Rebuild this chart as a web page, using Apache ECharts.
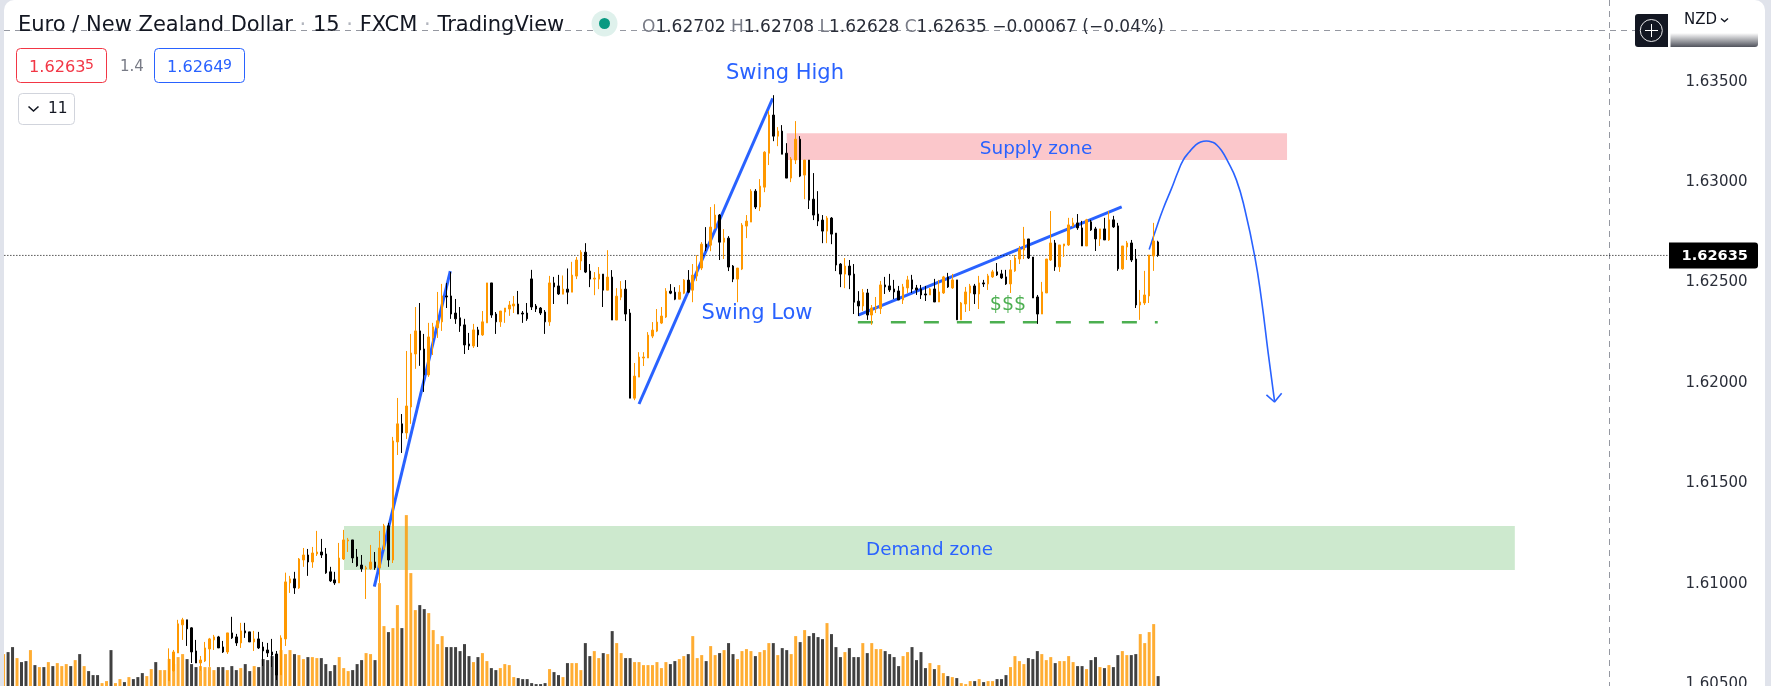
<!DOCTYPE html>
<html><head><meta charset="utf-8">
<style>
html,body{margin:0;padding:0;background:#e0e3eb;width:1771px;height:686px;overflow:hidden}
#c{position:absolute;left:0;top:0;width:1771px;height:686px;clip-path:inset(0 6px 0 4px round 10px 10px 0 0)}
</style>
<script src="https://cdn.jsdelivr.net/npm/echarts@6/dist/echarts.min.js"></script>
</head><body><div id="c"></div>
<script>
// All prices below are in 1/100000 of a NZD ("pipettes"). Rows are [open, close, low, high].
const barsOffscreen = 37;          // bars whose candles sit below the visible price range
const earlyBarUp = [1,0,0,1,0,0,1,0,1,0,1,0,1,1,1,0,1,0,1,0,0,0,1,1,0,1,1,0,1,0,0,0,1,1,0,1,1];

const candlesBase = [
[160517,160624,160517,160678],[160567,160660,160562,160670],[160655,160800,160655,160820],[160795,160820,160720,160830],
[160820,160775,160690,160820],[160780,160660,160605,160783],[160665,160605,160605,160720],[160605,160620,160566,160640],
[160615,160680,160610,160710],[160675,160725,160586,160730],[160720,160735,160670,160745],[160735,160680,160680,160740],
[160685,160660,160655,160715],[160660,160755,160650,160755],[160755,160730,160725,160835],[160735,160705,160690,160750],
[160705,160765,160680,160805],[160765,160755,160730,160805],[160760,160710,160710,160760],[160710,160725,160665,160765],
[160725,160680,160675,160760],[160685,160665,160590,160710],[160670,160655,160635,160705],[160660,160645,160585,160725],
[160650,160545,160520,160665]];

const candlesRally = [
[160546,160730,160546,160743],[160725,161009,160690,161055],[161004,161024,160954,161039],[161024,160979,160949,161059],
[160979,161123,160974,161128],[161118,161143,161084,161178],[161143,161108,161039,161173],[161108,161153,161079,161183],
[161148,161158,161138,161263],[161158,161143,161128,161223],[161148,161054,161049,161178],[161059,161014,161009,161084],
[161019,161004,160994,161059],[161004,161128,161004,161203],[161123,161218,161118,161268],[161213,161218,161158,161228],
[161218,161128,161103,161218],[161133,161089,161084,161173],[161093,161074,161059,161143],[161074,161079,160924,161089],
[161074,161108,161069,161193],[161108,161079,161069,161158],[161079,161178,161004,161263],[161173,161288,161168,161298],
[161288,161118,161084,161303],[161118,161711,161103,161731],[161706,161796,161641,161925],[161796,161751,161651,161845],
[161751,161885,161721,162159],[161880,162149,161796,162244],[162144,162259,162070,162378],[162259,162164,162085,162398],
[162169,162040,161955,162244],[162040,162229,162030,162299],[162224,162279,162139,162299],[162274,162309,162224,162453],
[162304,162433,162259,162493],[162433,162428,162373,162498],[162433,162343,162319,162553],[162348,162319,162294,162418],
[162324,162284,162254,162378],[162289,162189,162144,162319],[162194,162184,162164,162249],[162184,162264,162174,162294],
[162264,162239,162179,162279],[162239,162304,162234,162358],[162299,162498,162299,162498],[162498,162338,162324,162498],
[162343,162304,162244,162353],[162304,162358,162279,162358],[162353,162373,162299,162373],[162368,162388,162334,162408],
[162383,162393,162348,162433],[162393,162343,162343,162458],[162348,162343,162299,162358],[162348,162319,162309,162398],
[162518,162378,162363,162563],[162383,162368,162353,162393],[162373,162348,162338,162378],[162353,162304,162244,162363],
[162304,162498,162284,162533],[162498,162478,162393,162528],[162483,162443,162438,162538]];

const candlesSwing = [
[162442,162467,162442,162535],[162467,162452,162392,162570],[162452,162537,162452,162603],[162532,162612,162517,162627],
[162607,162651,162562,162661],[162651,162552,162547,162696],[162557,162517,162477,162592],[162517,162522,162437,162552],
[162517,162542,162467,162577],[162542,162462,162378,162542],[162462,162527,162462,162661],[162527,162313,162313,162562],
[162313,162432,162313,162472],[162427,162467,162412,162507],[162467,162343,162308,162512],[162348,161924,161924,162368],
[161924,162034,161914,162099],[162029,162129,162029,162153],[162124,162129,162084,162153],[162124,162238,162124,162253],
[162233,162263,162223,162303],[162258,162303,162253,162368],[162298,162333,162293,162378],[162328,162457,162323,162472],
[162457,162447,162442,162492],[162452,162417,162412,162477],[162417,162452,162417,162487],[162447,162512,162442,162517],
[162512,162452,162447,162562],[162462,162537,162402,162592],[162532,162577,162507,162636],[162572,162691,162562,162701],
[162691,162676,162656,162776],[162686,162776,162656,162876],[162771,162836,162766,162890],[162836,162701,162612,162841],
[162701,162721,162617,162766],[162721,162577,162557,162731],[162582,162517,162502,162587],[162517,162572,162402,162572],
[162567,162786,162562,162796],[162781,162806,162721,162836],[162801,162955,162801,162965],[162955,162876,162866,162965],
[162876,162980,162856,163015],[162975,163149,162950,163154],[163144,163334,163085,163354],[163334,163229,163204,163433],
[163229,163254,163179,163274],[163254,163139,163139,163284],[163144,163020,163020,163194],[163020,163115,163000,163125],
[163110,163214,163090,163304],[163214,163030,163025,163229],[163035,163110,162915,163110],[163110,162910,162866,163110],
[162915,162836,162811,163045],[162841,162806,162781,162955],[162811,162756,162696,162836],[162756,162821,162696,162831],
[162821,162741,162691,162826],[162746,162587,162557,162746],[162592,162542,162477,162597],[162542,162582,162472,162622],
[162582,162537,162467,162612],[162542,162402,162343,162592],[162407,162383,162333,162457]];

const candlesRange = [
[162383,162450,162358,162468],[162448,162338,162314,162468],[162338,162373,162289,162388],[162373,162378,162348,162428],
[162370,162488,162343,162508],[162488,162478,162443,162528],[162483,162463,162453,162543],[162468,162453,162418,162513],
[162458,162413,162413,162483],[162413,162478,162393,162493],[162473,162513,162448,162533],[162513,162468,162448,162538],
[162473,162463,162438,162488],[162468,162438,162418,162488],[162443,162438,162408,162483],[162438,162468,162438,162473],
[162468,162403,162403,162518],[162403,162453,162403,162513],[162448,162528,162443,162533],[162528,162478,162473,162548],
[162473,162513,162468,162543],[162513,162314,162314,162513],[162314,162398,162314,162403],[162393,162453,162353,162478],
[162448,162483,162358,162493],[162483,162443,162393,162493],[162443,162498,162368,162533],[162498,162493,162478,162513],
[162493,162533,162463,162543],[162528,162553,162523,162563],[162553,162538,162533,162597],[162543,162523,162518,162563],
[162528,162493,162488,162563],[162493,162563,162448,162612],[162558,162622,162553,162637],[162617,162667,162592,162682],
[162662,162717,162617,162777],[162717,162622,162617,162717],[162627,162423,162423,162627],[162428,162343,162294,162438],
[162343,162453,162343,162503],[162448,162617,162448,162617],[162612,162697,162607,162856],[162697,162578,162558,162712],
[162578,162687,162553,162687],[162682,162692,162627,162692],[162687,162787,162682,162822],[162782,162797,162777,162822],
[162797,162772,162762,162841],[162772,162682,162682,162807],[162682,162812,162682,162817],[162802,162762,162757,162812],
[162767,162717,162657,162777],[162717,162767,162682,162767],[162767,162712,162712,162822],[162712,162812,162707,162856],
[162812,162777,162772,162832],[162782,162568,162558,162797],[162568,162682,162563,162682],[162677,162697,162612,162707],
[162697,162612,162602,162712],[162617,162388,162373,162667],[162388,162403,162314,162463],[162398,162438,162388,162558],
[162433,162637,162398,162637],[162632,162707,162558,162797],[162702,162635,162628,162708]];

const volumes = [
32,34,39,28,24,25,36,21,19,19,24,20,23,20,22,20,26,32,20,15,11,11,3,5,36,3,7,4,9,7,9,13,10,17,24,16,16,
27,22,29,32,27,22,19,20,19,19,16,19,19,16,20,16,18,22,15,20,19,27,26,30,32,36,32,36,32,31,27,29,29,28,28,22,15,21,29,18,15,16,22,26,33,32,26,
103,60,54,58,81,58,171,113,76,81,77,73,56,42,50,39,39,39,35,42,30,24,29,33,25,18,16,18,22,21,9,8,7,7,3,2,2,3,17,14,11,9,23,23,23,16,43,30,35,28,
33,32,55,43,33,28,28,24,24,21,21,21,24,18,24,22,25,27,30,32,50,28,31,25,40,31,33,36,43,32,27,35,37,35,30,34,36,43,43,31,38,36,32,50,44,56,50,53,49,47,63,52,39,29,34,38,29,29,43,33,43,37,37,35,32,29,20,30,34,39,26,34,18,23,17,21,13,10,9,8,3,2,5,5,7,4,5,5,7,7,11,19,30,25,22,28,27,35,32,26,29,23,25,25,30,24,20,20,17,26,29,19,18,21,19,31,35,31,31,32,52,43,54,62,10];

const priceTicks = [160500,161000,161500,162000,162500,163000,163500];
const lastPrice = 162635;

// Annotations: [bar index, price]
const trendA = [[82.84,160985],[99.82,162557]];
const trendB = [[141.99,161895],[171.87,163417]];
const trendC = [[190.99,162338],[249.85,162877]];
const liquidityLine = [[190.9,162302],[257.9,162302]];
const forecastCurve = [[256,162665],[257.7,162778],[259.15,162869],[261,162969],[262.3,163044],[263.6,163110],[265,163151],[266.2,163181],[267.5,163200],[268.8,163205],[270.2,163198],[271.1,163185],[272.2,163156],[273.3,163114],[275.5,163010],[277.4,162861],[279.6,162629],[281.1,162413],[282.6,162147],[284,161910]];
const forecastArrow = [[282.2,161940],[284,161905],[285.6,161948]];
const supplyZone = [[175,163244],[286.8,163110]];
const demandZone = [[76.07,161287],[337.7,161068]];
const priceLine = [[-0.5,lastPrice],[372.1,lastPrice]];

const P = v => v / 1e5;
const pts = a => a.map(p => [p[0], P(p[1])]);
const candles = [...candlesBase, ...candlesRally, ...candlesSwing, ...candlesRange];
const TOTAL_SLOTS = 394;
const categories = Array.from({length: TOTAL_SLOTS}, (_, i) => String(i));
const candleData = Array.from({length: barsOffscreen}, () => ['-','-','-','-']).concat(candles.map(r => r.map(P)));
const isUp = i => i < barsOffscreen ? earlyBarUp[i] === 1 : candles[i - barsOffscreen][1] >= candles[i - barsOffscreen][0];
const volumeData = volumes.map((v, i) => ({value: v, itemStyle: {color: isUp(i) ? 'rgba(255,152,0,0.8)' : 'rgba(0,0,0,0.75)'}}));

const BLUE = '#2962ff', INK = '#131722', GREY = '#787b86';
const FONT = '"DejaVu Sans", sans-serif';
const overlay = (name, data, lineStyle, z, extra) => Object.assign({
  name, type: 'line', xAxisIndex: 1, yAxisIndex: 0, data, symbol: 'none', silent: true, z,
  lineStyle, clip: false, animation: false
}, extra || {});
const zone = (name, z, color) => ({
  name, type: 'line', xAxisIndex: 1, yAxisIndex: 0, data: [], z: 2, silent: true,
  markArea: {silent: true, itemStyle: {color}, data: [[{coord: [z[0][0], P(z[0][1])]}, {coord: [z[1][0], P(z[1][1])]}]]}
});
const T = (x, y, text, fontSize, fill, opts) => ({type: 'text', x, y, z: 50, silent: true,
  style: Object.assign({text, fontSize, fill, fontFamily: FONT, textVerticalAlign: 'middle', verticalAlign: 'middle', align: 'left'}, opts || {})});
const L = (x1, y1, x2, y2, stroke, dash, z) => ({type: 'line', z: z || 1, silent: true, shape: {x1, y1, x2, y2}, style: {stroke, lineWidth: 1, lineDash: dash}});
const R = (x, y, width, height, style, r, z) => ({type: 'rect', z: z || 40, silent: true, shape: {x, y, width, height, r: r || 0}, style});

const graphics = [
  L(4, 30.5, 1636, 30.5, '#9598a1', [6, 5]),
  L(1609.5, 0, 1609.5, 686, '#9598a1', [6, 5]),
  // header
  T(18, 26, '{a|Euro / New Zealand Dollar}{d| · }{a|15}{d| · }{a|FXCM}{d| · }{a|TradingView}', 21, INK, {
    rich: {a: {fontSize: 21, fill: INK, color: INK, fontFamily: FONT}, d: {fontSize: 21, fill: '#b2b5be', color: '#b2b5be', fontFamily: FONT}}}),
  {type: 'circle', z: 40, silent: true, shape: {cx: 604.5, cy: 23.5, r: 13}, style: {fill: '#dff1ec'}},
  {type: 'circle', z: 41, silent: true, shape: {cx: 604.5, cy: 23.5, r: 5.5}, style: {fill: '#089981'}},
  T(642, 28, '{g|O}{v|1.62702} {g|H}{v|1.62708} {g|L}{v|1.62628} {g|C}{v|1.62635} {v|−0.00067 (−0.04%)}', 17, INK, {
    rich: {g: {fontSize: 17, fill: GREY, color: GREY, fontFamily: FONT}, v: {fontSize: 17, fill: '#2a2e39', color: '#2a2e39', fontFamily: FONT}}}),
  R(16.5, 48.5, 90, 34, {fill: '#fff', stroke: '#f23645', lineWidth: 1}, 4),
  T(29, 67.5, '1.6263', 16.2, '#f23645'),
  T(85, 65, '5', 14, '#f23645'),
  T(120, 67, '1.4', 15, GREY),
  R(154.5, 48.5, 90, 34, {fill: '#fff', stroke: BLUE, lineWidth: 1}, 4),
  T(167, 67.5, '1.6264', 16.2, BLUE),
  T(223, 65, '9', 14, BLUE),
  R(18.5, 93.5, 56, 31, {fill: '#fff', stroke: '#d1d4dc', lineWidth: 1}, 4),
  {type: 'polyline', z: 41, silent: true, shape: {points: [[28.5, 106.5], [33.5, 111], [38.5, 106.5]]}, style: {stroke: INK, lineWidth: 1.6, fill: null}},
  T(48, 109, '11', 15.4, INK),
  // annotation text
  T(785, 74, 'Swing High', 21, BLUE, {align: 'center'}),
  T(757, 314, 'Swing Low', 21, BLUE, {align: 'center'}),
  T(1036, 149, 'Supply zone', 18.4, BLUE, {align: 'center'}),
  T(929.6, 550, 'Demand zone', 18.3, BLUE, {align: 'center'}),
  T(1008, 305, '$$$', 19, '#4caf50', {align: 'center'}),
  // price-scale furniture
  R(1635, 14, 33, 33, {fill: INK}, [3, 0, 0, 3]),
  {type: 'circle', z: 41, silent: true, shape: {cx: 1651.3, cy: 30.5, r: 11}, style: {fill: 'none', stroke: '#e8e8ea', lineWidth: 1}},
  L(1645, 30.5, 1658, 30.5, '#fff', null, 42),
  L(1651.5, 24, 1651.5, 37, '#fff', null, 42),
  R(1670.5, 33, 87.5, 14, {fill: {type: 'linear', x: 0, y: 0, x2: 0, y2: 1, colorStops: [{offset: 0, color: '#ffffff'}, {offset: 1, color: '#50535c'}]}}, [0, 0, 3, 0]),
  T(1684, 20, 'NZD', 15, INK),
  {type: 'polyline', z: 41, silent: true, shape: {points: [[1721, 18.5], [1724.5, 21.5], [1728, 18.5]]}, style: {stroke: INK, lineWidth: 1.4, fill: null}},
  R(1669, 242.5, 89, 26, {fill: '#000'}, [0, 3, 3, 0]),
  T(1748, 256, P(lastPrice).toFixed(5), 14.6, '#fff', {align: 'right', fontWeight: 'bold'})
];

const chart = echarts.init(document.getElementById('c'), null, {renderer: 'canvas'});
chart.setOption({
  animation: false,
  backgroundColor: '#ffffff',
  grid: {left: 1.36, width: 1763.15, top: -0.6, height: 686.7, containLabel: false, outerBoundsMode: 'none'},
  xAxis: [
    {type: 'category', data: categories, show: false, boundaryGap: true},
    {type: 'value', min: -0.5, max: TOTAL_SLOTS - 0.5, show: false}
  ],
  yAxis: [
    {type: 'value', min: 1.6049, max: 1.6391, position: 'right', scale: true, splitLine: {show: false},
     axisLine: {show: false}, axisTick: {show: false},
     axisLabel: {inside: true, margin: 17, color: '#2a2e39', fontFamily: FONT, fontSize: 15,
       customValues: priceTicks.map(P), formatter: v => v.toFixed(5)}},
    {type: 'value', min: 0, max: 686.7, show: false}
  ],
  series: [
    overlay('Forecast', pts(forecastCurve), {color: BLUE, width: 1.6}, 1, {smooth: 0.5}),
    overlay('Forecast arrow', pts(forecastArrow), {color: BLUE, width: 1.6}, 1),
    zone('Supply zone', supplyZone, 'rgba(242,54,69,0.28)'),
    zone('Demand zone', demandZone, 'rgba(76,175,80,0.28)'),
    overlay('Trend A', pts(trendA), {color: BLUE, width: 3}, 3),
    overlay('Trend B', pts(trendB), {color: BLUE, width: 3}, 3),
    overlay('Trend C', pts(trendC), {color: BLUE, width: 3}, 3),
    overlay('Liquidity', pts(liquidityLine), {color: '#4caf50', width: 2.6, type: [15, 18]}, 3),
    overlay('Last price', pts(priceLine), {color: '#000', width: 1, type: [1, 2]}, 3),
    {name: 'Volume', type: 'bar', xAxisIndex: 0, yAxisIndex: 1, data: volumeData, barWidth: 3, z: 4, silent: true, animation: false},
    {name: 'EUR/NZD', type: 'candlestick', xAxisIndex: 0, yAxisIndex: 0, data: candleData, barWidth: 2, z: 5, silent: true, animation: false,
     itemStyle: {color: '#ff9800', color0: '#000000', borderColor: '#ff9800', borderColor0: '#000000', borderColorDoji: '#ff9800', borderWidth: 1}}
  ],
  graphic: graphics
});
</script></body></html>
